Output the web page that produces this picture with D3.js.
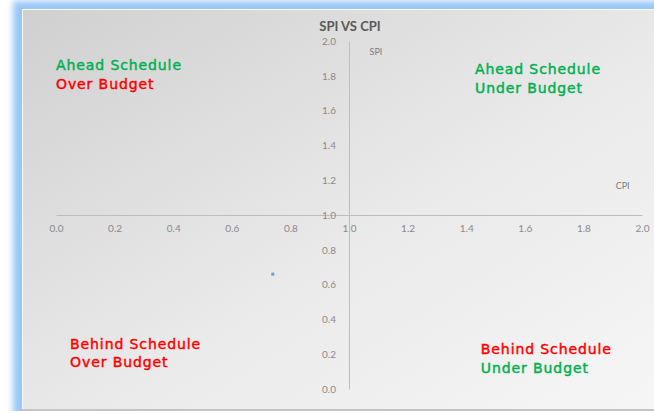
<!DOCTYPE html>
<html>
<head>
<meta charset="utf-8">
<script src="https://cdn.jsdelivr.net/npm/d3@7"></script>
<style>
  html, body { margin: 0; padding: 0; background: #fff; }
  svg { display: block; }
</style>
</head>
<body>
<div id="chart"></div>
<script>
var width = 654;
var height = 414;

// data
var xTicks = [0, 0.2, 0.4, 0.6, 0.8, 1.0, 1.2, 1.4, 1.6, 1.8, 2.0];
var yTicks = [0, 0.2, 0.4, 0.6, 0.8, 1.0, 1.2, 1.4, 1.6, 1.8, 2.0];
var cpiValues = [0.74];
var spiValues = [0.66];
var quadrantLines = [
    { pos: 'tl', lines: ['Ahead Schedule', 'Over Budget'], colors: ['#00b050', '#ff0000'] },
    { pos: 'tr', lines: ['Ahead Schedule', 'Under Budget'], colors: ['#00b050', '#00b050'] },
    { pos: 'bl', lines: ['Behind Schedule', 'Over Budget'], colors: ['#ff0000', '#ff0000'] },
    { pos: 'br', lines: ['Behind Schedule', 'Under Budget'], colors: ['#ff0000', '#00b050'] }
];

var svg = d3.select('#chart')
    .append('svg')
    .attr('width', width)
    .attr('height', height);

var defs = svg.append('defs');
var grad = defs.append('linearGradient')
    .attr('id', 'bg')
    .attr('x1', '0%').attr('y1', '0%')
    .attr('x2', '100%').attr('y2', '100%');
grad.append('stop').attr('offset', '0%').attr('stop-color', '#d0d0d0');
grad.append('stop').attr('offset', '55%').attr('stop-color', '#eaeaea');
grad.append('stop').attr('offset', '100%').attr('stop-color', '#f6f6f6');

defs.append('filter').attr('id', 'glow')
    .attr('x', '-10%').attr('y', '-10%').attr('width', '120%').attr('height', '120%')
    .append('feGaussianBlur').attr('stdDeviation', 3);

// blue glow frame
svg.append('rect')
    .attr('x', 13).attr('y', 1)
    .attr('width', 700).attr('height', 420)
    .attr('fill', '#98c7f6')
    .attr('filter', 'url(#glow)');

svg.append('rect')
    .attr('x', 22).attr('y', 9)
    .attr('width', 700).attr('height', 402)
    .attr('fill', '#fafafa');

svg.append('rect')
    .attr('x', 23).attr('y', 10)
    .attr('width', 640).attr('height', 399)
    .attr('fill', 'url(#bg)');

svg.append('line')
    .attr('x1', 22).attr('x2', 654)
    .attr('y1', 410).attr('y2', 410)
    .attr('stroke', '#c4c4c4').attr('stroke-width', 2);

svg.append('rect')
    .attr('x', 0).attr('y', 411)
    .attr('width', width).attr('height', 4)
    .attr('fill', '#fff');

var x = d3.scaleLinear().domain([0, 2]).range([56, 642]);
var y = d3.scaleLinear().domain([0, 2]).range([389, 41]);

var fmt = d3.format('.1f');

var xAxis = svg.append('g')
    .attr('transform', 'translate(0,' + y(1) + ')')
    .call(d3.axisBottom(x).tickValues(xTicks).tickFormat(fmt).tickSize(0).tickPadding(10));

var yAxis = svg.append('g')
    .attr('transform', 'translate(' + x(1) + ',0)')
    .call(d3.axisLeft(y).tickValues(yTicks).tickFormat(fmt).tickSize(0).tickPadding(13));

[xAxis, yAxis].forEach(function (ax) {
    ax.select('.domain').attr('stroke', '#bdbdbd').attr('stroke-width', 1);
    ax.selectAll('text')
        .attr('fill', '#8a8a8a')
        .style('font-family', 'Lato, "Open Sans", sans-serif')
        .style('font-size', '10px');
});
yAxis.raise();

// title and axis names
svg.append('text')
    .attr('x', 350).attr('y', 31)
    .attr('text-anchor', 'middle')
    .attr('fill', '#595959')
    .style('font-family', 'Lato, "Open Sans", sans-serif')
    .style('font-weight', 'bold')
    .style('font-size', '13px')
    .text('SPI VS CPI');

svg.append('text')
    .attr('x', x(1.07)).attr('y', y(1.92))
    .attr('fill', '#7a7a7a')
    .style('font-family', 'Lato, "Open Sans", sans-serif')
    .style('font-size', '9px')
    .text('SPI');

svg.append('text')
    .attr('x', x(1.91)).attr('y', y(1.15))
    .attr('fill', '#7a7a7a')
    .style('font-family', 'Lato, "Open Sans", sans-serif')
    .style('font-size', '9px')
    .text('CPI');

// quadrant labels
var quadPos = {
    tl: [x(0), y(1.833)],
    tr: [x(1.43), y(1.81)],
    bl: [x(0.048), y(0.23)],
    br: [x(1.45), y(0.20)]
};

quadrantLines.forEach(function (q) {
    var p = quadPos[q.pos];
    var t = svg.append('text')
        .attr('x', p[0]).attr('y', p[1])
        .style('font-family', '"DejaVu Sans", sans-serif')
        .style('font-size', '14px')
        .style('letter-spacing', '0.9px');
    q.lines.forEach(function (l, i) {
        t.append('tspan')
            .attr('x', p[0])
            .attr('dy', i === 0 ? 0 : 18.5)
            .attr('fill', q.colors[i])
            .attr('stroke', q.colors[i])
            .attr('stroke-width', 0.45)
            .text(l);
    });
});

// data point
svg.selectAll('.pt')
    .data(cpiValues)
    .enter()
    .append('rect')
    .attr('class', 'pt')
    .attr('x', function (d) { return x(d) - 1.5; })
    .attr('y', function (d, i) { return y(spiValues[i]) - 1.5; })
    .attr('width', 3)
    .attr('height', 3)
    .attr('fill', '#6a9fd4');
</script>
</body>
</html>
